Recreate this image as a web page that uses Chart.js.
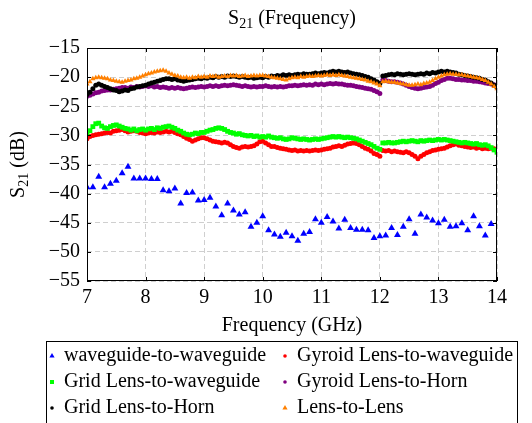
<!DOCTYPE html>
<html>
<head>
<meta charset="utf-8">
<script src="https://cdn.jsdelivr.net/npm/chart.js@4.4.0/dist/chart.umd.min.js"></script>
<style>
  body { margin: 0; background: #fff; }
  #wrap { width: 532px; height: 423px; }
</style>
</head>
<body>
<div id="wrap"><canvas id="chart" width="532" height="423"></canvas></div>
<script>
const seriesNames = ['waveguide-to-waveguide', 'Gyroid Lens-to-waveguide', 'Grid Lens-to-waveguide',
  'Gyroid Lens-to-Horn', 'Grid Lens-to-Horn', 'Lens-to-Lens']

const xTicks = [7, 8, 9, 10, 11, 12, 13, 14]
const yTicks = [-55, -50, -45, -40, -35, -30, -25, -20, -15]

// coarse sweep (waveguide-to-waveguide)
const freqCoarse = [
  7.0, 7.1, 7.2, 7.3, 7.4, 7.5, 7.6, 7.7, 7.8, 7.9,
  8.0, 8.1, 8.2, 8.3, 8.4, 8.5, 8.6, 8.7, 8.8, 8.9,
  9.0, 9.1, 9.2, 9.3, 9.4, 9.5, 9.6, 9.7, 9.8, 9.9,
  10.0, 10.1, 10.2, 10.3, 10.4, 10.5, 10.6, 10.7, 10.8, 10.9,
  11.0, 11.1, 11.2, 11.3, 11.4, 11.5, 11.6, 11.7, 11.8, 11.9,
  12.0, 12.1, 12.2, 12.3, 12.4, 12.5, 12.6, 12.7, 12.8, 12.9,
  13.0, 13.1, 13.2, 13.3, 13.4, 13.5, 13.6, 13.7, 13.8, 13.9
]
const waveguideDb = [
  -38.9, -38.9, -37.1, -38.9, -38.3, -37.8, -36.5, -35.4, -37.4, -37.4,
  -37.4, -37.5, -37.5, -39.4, -39.6, -39.1, -41.7, -39.9, -39.8, -41.2,
  -41.1, -40.7, -42.2, -43.7, -41.7, -42.9, -43.6, -43.2, -45.7, -45.0,
  -43.9, -46.3, -47.0, -47.4, -46.7, -47.3, -48.1, -46.9, -46.6, -44.4,
  -45.0, -44.0, -44.8, -46.0, -44.5, -45.9, -46.2, -46.2, -46.3, -47.6,
  -47.3, -47.2, -45.9, -47.1, -45.7, -44.4, -46.9, -43.6, -44.1, -44.6,
  -45.1, -44.5, -45.7, -45.6, -45.1, -46.3, -43.9, -45.6, -47.2, -45.2
]

// dense sweep (two measurement bands, 7-12 and 12-14 GHz)
const freqSweep = [
  7.00, 7.05, 7.10, 7.15, 7.20, 7.25, 7.30, 7.35, 7.40, 7.45,
  7.50, 7.55, 7.60, 7.65, 7.70, 7.75, 7.80, 7.85, 7.90, 7.95,
  8.00, 8.05, 8.10, 8.15, 8.20, 8.25, 8.30, 8.35, 8.40, 8.45,
  8.50, 8.55, 8.60, 8.65, 8.70, 8.75, 8.80, 8.85, 8.90, 8.95,
  9.00, 9.05, 9.10, 9.15, 9.20, 9.25, 9.30, 9.35, 9.40, 9.45,
  9.50, 9.55, 9.60, 9.65, 9.70, 9.75, 9.80, 9.85, 9.90, 9.95,
  10.00, 10.05, 10.10, 10.15, 10.20, 10.25, 10.30, 10.35, 10.40, 10.45,
  10.50, 10.55, 10.60, 10.65, 10.70, 10.75, 10.80, 10.85, 10.90, 10.95,
  11.00, 11.05, 11.10, 11.15, 11.20, 11.25, 11.30, 11.35, 11.40, 11.45,
  11.50, 11.55, 11.60, 11.65, 11.70, 11.75, 11.80, 11.85, 11.90, 11.95,
  12.00,
  12.05, 12.10, 12.15, 12.20, 12.25, 12.30, 12.35, 12.40, 12.45, 12.50,
  12.55, 12.60, 12.65, 12.70, 12.75, 12.80, 12.85, 12.90, 12.95, 13.00,
  13.05, 13.10, 13.15, 13.20, 13.25, 13.30, 13.35, 13.40, 13.45, 13.50,
  13.55, 13.60, 13.65, 13.70, 13.75, 13.80, 13.85, 13.90, 13.95, 14.00
]

const gyroidWgDb = [
  -30.6, -30.2, -30.0, -29.9, -29.8, -29.7, -29.6, -29.5, -29.6, -29.3,
  -29.2, -29.1, -29.0, -29.2, -29.4, -29.3, -29.2, -29.3, -29.5, -29.6,
  -29.7, -29.6, -29.5, -29.6, -29.4, -29.5, -29.4, -29.3, -29.4, -29.3,
  -29.5, -29.7, -29.9, -30.2, -30.5, -30.7, -31.0, -30.8, -30.6, -30.4,
  -30.4, -30.6, -30.8, -31.0, -31.1, -31.2, -31.3, -31.2, -31.3, -31.6,
  -31.9, -32.1, -32.2, -32.0, -31.9, -32.0, -31.9, -31.8, -31.5, -31.1,
  -31.0, -31.3, -31.6, -31.9, -31.9, -32.1, -32.2, -32.3, -32.4, -32.5,
  -32.6, -32.5, -32.7, -32.6, -32.7, -32.6, -32.7, -32.6, -32.5, -32.6,
  -32.5, -32.4, -32.3, -32.2, -32.0, -31.9, -31.8, -31.9, -31.7, -31.5,
  -31.4, -31.3, -31.4, -31.6, -31.9, -32.2, -32.4, -32.7, -33.1, -33.3,
  -33.6,
  -32.6, -32.7, -32.6, -32.8, -32.7, -32.8, -32.9, -33.0, -32.8, -33.0,
  -33.3, -33.6, -34.0, -33.6, -33.3, -33.0, -32.8, -32.6, -32.5, -32.4,
  -32.3, -32.2, -32.0, -31.8, -31.6, -31.5, -31.7, -31.8, -31.9, -32.0,
  -32.1, -32.0, -32.2, -32.1, -32.3, -32.2, -32.3, -32.2, -32.3, -32.4
]

const gridWgDb = [
  -29.6, -29.2, -28.5, -28.0, -27.9, -28.4, -28.7, -28.8, -28.5, -28.3,
  -28.2, -28.4, -28.6, -28.8, -28.9, -29.1, -28.9, -29.2, -29.0, -28.9,
  -29.1, -28.9, -28.8, -29.0, -28.7, -28.8, -28.6, -28.5, -28.4, -28.6,
  -28.8, -29.1, -29.3, -29.6, -29.8, -29.9, -29.8, -29.6, -29.7, -29.5,
  -29.5, -29.3, -29.1, -29.0, -28.8, -28.7, -28.8, -29.0, -29.3, -29.5,
  -29.6, -29.8, -29.7, -29.9, -30.0, -30.1, -30.0, -30.2, -30.1, -30.3,
  -30.2, -30.3, -30.1, -30.3, -30.4, -30.5, -30.4, -30.6, -30.7, -30.6,
  -30.4, -30.5, -30.6, -30.7, -30.6, -30.7, -30.8, -30.7, -30.6, -30.7,
  -30.6, -30.5, -30.4, -30.3, -30.2, -30.3, -30.2, -30.3, -30.4, -30.3,
  -30.4, -30.5, -30.6, -30.8, -31.0, -31.2, -31.4, -31.6, -31.9, -32.2,
  -32.4,
  -31.3, -31.3, -31.2, -31.3, -31.3, -31.2, -31.1, -31.0, -31.1, -31.0,
  -30.9, -31.0, -31.1, -30.9, -31.0, -30.9, -30.8, -30.9, -30.8, -30.7,
  -30.8, -30.7, -30.8, -30.9, -31.0, -31.1, -31.2, -31.3, -31.2, -31.3,
  -31.4, -31.5, -31.4, -31.6, -31.7, -31.6, -31.8, -32.1, -32.5, -32.9
]

const gyroidHornDb = [
  -23.3, -23.1, -22.9, -22.7, -22.6, -22.4, -22.3, -22.2, -22.2, -22.1,
  -22.0, -21.9, -21.8, -21.8, -21.9, -21.7, -21.8, -21.6, -21.7, -21.6,
  -21.5, -21.6, -21.5, -21.7, -21.6, -21.8, -21.7, -21.8, -21.9, -21.8,
  -21.9, -21.8, -21.9, -22.0, -21.9, -21.8, -21.7, -21.8, -21.7, -21.6,
  -21.7, -21.6, -21.5, -21.6, -21.5, -21.6, -21.5, -21.4, -21.5, -21.4,
  -21.3, -21.4, -21.5, -21.6, -21.5, -21.6, -21.7, -21.6, -21.7, -21.6,
  -21.6, -21.5, -21.6, -21.7, -21.6, -21.7, -21.6, -21.7, -21.6, -21.5,
  -21.5, -21.4, -21.5, -21.4, -21.3, -21.4, -21.3, -21.4, -21.2, -21.3,
  -21.2, -21.3, -21.2, -21.1, -21.2, -21.1, -21.2, -21.2, -21.3, -21.4,
  -21.4, -21.5, -21.6, -21.7, -21.8, -21.9, -22.0, -22.1, -22.3, -22.5,
  -22.8,
  -20.5, -20.6, -20.7, -20.8, -20.8, -20.9, -21.0, -21.2, -21.4, -21.6,
  -21.8, -21.9, -22.0, -21.9, -21.8, -21.7, -21.6, -21.4, -21.1, -20.9,
  -20.6, -20.4, -20.2, -20.2, -20.3, -20.4, -20.4, -20.5, -20.5, -20.6,
  -20.6, -20.7, -20.7, -20.8, -20.9, -21.0, -21.1, -21.2, -21.3, -21.4
]

const gridHornDb = [
  -23.0, -22.6, -22.0, -21.4, -21.2, -21.4, -21.6, -21.8, -22.0, -22.2,
  -22.3, -22.5, -22.4, -22.2, -22.3, -22.0, -21.9, -21.7, -21.6, -21.5,
  -21.4, -21.2, -21.0, -20.9, -20.7, -20.6, -20.4, -20.3, -20.3, -20.4,
  -20.3, -20.5, -20.6, -20.7, -20.6, -20.5, -20.4, -20.3, -20.2, -20.3,
  -20.1, -20.2, -20.0, -20.1, -19.9, -20.0, -19.9, -20.0, -19.8, -19.9,
  -19.8, -19.9, -20.0, -19.9, -20.0, -20.1, -20.0, -20.2, -20.1, -20.0,
  -20.1, -19.9, -20.0, -19.8, -19.9, -19.7, -19.8, -19.6, -19.7, -19.6,
  -19.7, -19.6, -19.5, -19.6, -19.4, -19.5, -19.5, -19.4, -19.3, -19.4,
  -19.3, -19.2, -19.3, -19.1, -19.0, -19.1, -19.0, -19.1, -19.2, -19.1,
  -19.3, -19.4, -19.5, -19.6, -19.7, -19.9, -20.0, -20.3, -20.5, -20.8,
  -21.1,
  -19.8, -19.7, -19.6, -19.5, -19.6, -19.4, -19.5, -19.6, -19.5, -19.4,
  -19.5, -19.6, -19.5, -19.4, -19.5, -19.3, -19.4, -19.2, -19.3, -19.1,
  -19.0, -19.1, -19.0, -19.1, -19.2, -19.3, -19.5, -19.6, -19.7, -19.8,
  -19.9, -20.0, -20.1, -20.2, -20.4, -20.5, -20.8, -21.0, -21.4, -21.8
]

const lensLensDb = [
  -21.2, -20.8, -20.3, -20.1, -20.0, -20.1, -20.2, -20.3, -20.5, -20.6,
  -20.7, -20.8, -20.9, -20.7, -20.6, -20.5, -20.3, -20.2, -20.0, -19.8,
  -19.6, -19.4, -19.3, -19.1, -19.0, -18.9, -18.8, -19.0, -19.3, -19.5,
  -19.7, -19.8, -20.0, -20.1, -20.0, -20.2, -20.0, -20.1, -19.9, -20.0,
  -19.9, -20.0, -19.8, -19.9, -19.8, -20.0, -19.9, -19.8, -19.9, -19.7,
  -19.8, -19.7, -19.9, -19.8, -19.7, -19.9, -19.8, -19.7, -19.8, -19.7,
  -19.7, -19.8, -19.9, -20.0, -20.1, -20.2, -20.3, -20.4, -20.5, -20.3,
  -20.1, -20.0, -20.1, -19.9, -20.0, -19.9, -19.8, -19.9, -19.8, -19.7,
  -19.8, -19.7, -19.6, -19.7, -19.6, -19.7, -19.6, -19.7, -19.8, -19.9,
  -20.0, -20.1, -20.2, -20.3, -20.4, -20.5, -20.7, -20.8, -21.0, -21.2,
  -21.5,
  -20.8, -20.7, -20.8, -20.9, -20.9, -21.0, -21.1, -21.2, -21.3, -21.4,
  -21.4, -21.3, -21.2, -21.3, -21.1, -21.0, -20.9, -20.6, -20.3, -20.0,
  -19.8, -19.6, -19.5, -19.4, -19.5, -19.5, -19.6, -19.6, -19.7, -19.8,
  -19.9, -20.0, -20.1, -20.2, -20.4, -20.6, -20.9, -21.2, -21.6, -22.0
]

const colors = ['#0000ff', '#ff0000', '#00ff00', '#800080', '#000000', '#ff8000']
const markers = ['triangle', 'circle', 'rect', 'circle', 'circle', 'triangle']

const serif = "'Liberation Serif', 'Times New Roman', serif"

function pairs(xs, ys) {
    return ys.map((v, i) => ({ x: xs[i], y: v }))
}

const seriesData = [
    pairs(freqCoarse, waveguideDb),
    pairs(freqSweep, gyroidWgDb),
    pairs(freqSweep, gridWgDb),
    pairs(freqSweep, gyroidHornDb),
    pairs(freqSweep, gridHornDb),
    pairs(freqSweep, lensLensDb)
]
const radii = [4, 2.5, 3.4, 2.5, 2.5, 3]

// draws "S" + subscript "21" + rest, centred on cx
function drawS21(ctx, cx, cy, rest) {
    ctx.font = '20px ' + serif
    const wS = ctx.measureText('S').width
    const wRest = ctx.measureText(rest).width
    ctx.font = '14px ' + serif
    const wSub = ctx.measureText('21').width
    let x = cx - (wS + wSub + wRest) / 2
    ctx.textAlign = 'left'
    ctx.textBaseline = 'alphabetic'
    ctx.font = '20px ' + serif
    ctx.fillText('S', x, cy)
    x += wS
    ctx.font = '14px ' + serif
    ctx.fillText('21', x, cy + 4)
    x += wSub
    ctx.font = '20px ' + serif
    ctx.fillText(rest, x, cy)
}

const decorations = {
    id: 'decorations',
    afterDatasetsDraw(chart) {
        const { ctx, chartArea: a, scales } = chart
        ctx.save()
        ctx.strokeStyle = '#000'
        ctx.lineWidth = 1
        ctx.strokeRect(a.left + 0.5, a.top + 0.5, a.right - a.left - 1, a.bottom - a.top - 1)
        ctx.beginPath()
        xTicks.forEach(t => {
            const px = Math.round(scales.x.getPixelForValue(t)) + 0.5
            ctx.moveTo(px, a.bottom); ctx.lineTo(px, a.bottom - 4)
            ctx.moveTo(px, a.top); ctx.lineTo(px, a.top + 4)
        })
        yTicks.forEach(t => {
            const py = Math.round(scales.y.getPixelForValue(t)) + 0.5
            ctx.moveTo(a.left, py); ctx.lineTo(a.left + 4, py)
            ctx.moveTo(a.right, py); ctx.lineTo(a.right - 4, py)
        })
        ctx.stroke()
        ctx.restore()
    },
    afterDraw(chart) {
        const { ctx, chartArea: a } = chart
        const cx = (a.left + a.right) / 2
        ctx.save()
        ctx.fillStyle = '#000'
        drawS21(ctx, cx, 24, ' (Frequency)')

        ctx.save()
        ctx.translate(24, (a.top + a.bottom) / 2)
        ctx.rotate(-Math.PI / 2)
        drawS21(ctx, 0, 0, ' (dB)')
        ctx.restore()

        ctx.font = '20px ' + serif
        ctx.textAlign = 'center'
        ctx.textBaseline = 'middle'
        ctx.fillText('Frequency (GHz)', cx, 326)

        // legend box, two columns
        ctx.strokeStyle = '#000'
        ctx.lineWidth = 1
        ctx.strokeRect(46.5, 341.5, 471, 100)
        const colX = [52, 285]
        const rowY = [356, 382, 408]
        ctx.textAlign = 'left'
        seriesNames.forEach((name, i) => {
            const mx = colX[i % 2], my = rowY[Math.floor(i / 2)]
            ctx.fillStyle = colors[i]
            ctx.beginPath()
            if (markers[i] === 'triangle') {
                ctx.moveTo(mx, my - 3); ctx.lineTo(mx + 2.6, my + 1.5); ctx.lineTo(mx - 2.6, my + 1.5); ctx.closePath()
            } else if (markers[i] === 'rect') {
                ctx.rect(mx - 2, my - 2, 4, 4)
            } else {
                ctx.arc(mx, my, 1.8, 0, Math.PI * 2)
            }
            ctx.fill()
            ctx.fillStyle = '#000'
            ctx.fillText(name, mx + 12, my)
        })
        ctx.restore()
    }
}

const canvas = document.getElementById('chart')
new Chart(canvas.getContext('2d'), {
    type: 'scatter',
    data: {
        datasets: seriesNames.map((name, i) => ({
            label: name,
            data: seriesData[i],
            backgroundColor: colors[i],
            borderColor: colors[i],
            borderWidth: 0,
            pointStyle: markers[i],
            pointRadius: radii[i],
            order: 6 - i
        }))
    },
    options: {
        responsive: false,
        animation: false,
        layout: { padding: { left: 0, right: 35, top: 48, bottom: 0 } },
        plugins: { legend: { display: false }, title: { display: false }, tooltip: { enabled: false } },
        scales: {
            x: {
                type: 'linear', min: 7, max: 14,
                afterFit: s => { s.height = 142 },
                afterBuildTicks: s => { s.ticks = xTicks.map(v => ({ value: v })) },
                grid: { color: '#cfcfcf', drawTicks: false },
                border: { display: false, dash: [5, 3] },
                ticks: { color: '#000', padding: 5, font: { family: serif, size: 20 } }
            },
            y: {
                type: 'linear', min: -55, max: -15,
                afterFit: s => { s.width = 87 },
                afterBuildTicks: s => { s.ticks = yTicks.map(v => ({ value: v })) },
                grid: { color: '#cfcfcf', drawTicks: false },
                border: { display: false, dash: [5, 3] },
                ticks: {
                    color: '#000', padding: 7, font: { family: serif, size: 20 },
                    callback: v => String(v).replace('-', '\u2212')
                }
            }
        }
    },
    plugins: [decorations]
})
</script>
</body>
</html>
